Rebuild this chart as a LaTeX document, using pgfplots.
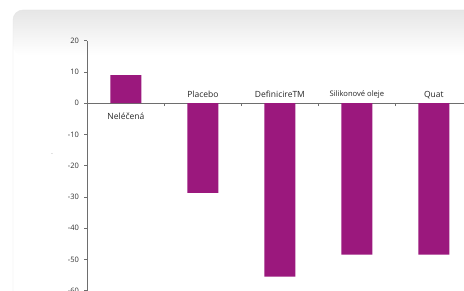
\documentclass[border=0pt]{standalone}
\usepackage{pgfplots}
\pgfplotsset{compat=1.18}
\usepackage{fontspec}
\setmainfont{Open Sans}
\definecolor{barpurple}{RGB}{155,24,125}
\definecolor{axgray}{RGB}{110,110,110}
\definecolor{panelgray}{RGB}{230,230,230}
\begin{document}
\begin{tikzpicture}[x=1pt,y=1pt]
\useasboundingbox (0,0) rectangle (464,291);
\clip (0,0) rectangle (464,291);
\fill[white] (0,0) rectangle (464,291);
\fill[white, rounded corners=10pt] (13,-20) rectangle (490,281);
\shade[rounded corners=10pt, top color=panelgray, bottom color=white] (13,236) rectangle (490,281);
\draw[black!10, rounded corners=10pt] (13,-20) -- (13,281) -- (490,281);
\node[text=black!35, font=\fontsize{6}{7}\selectfont] at (52,136) {-};
\begin{axis}[
  at={(113.5,1)}, anchor=south west,
  scale only axis, width=385pt, height=250pt,
  xmin=-0.5, xmax=4.5, ymin=-60, ymax=20,
  axis y line=left, axis x line=middle,
  axis line style={-, axgray, line width=1pt},
  ytick={-60,-50,-40,-30,-20,-10,0,10,20},
  xtick={0.5,1.5,2.5,3.5,4.5},
  xticklabels={},
  x tick style={axgray, line width=0.6pt},
  y tick style={axgray, line width=0.6pt},
  major tick length=3pt,
  tick align=outside,
  /pgf/number format/assume math mode=true,
  yticklabel style={font=\fontsize{7.5}{8}\selectfont, text=black!80, xshift=-2pt},
  clip=false,
]
\addplot[ybar, bar width=31pt, fill=barpurple, draw=none] coordinates {
  (0,9) (1,-28.7) (2,-55.5) (3,-48.5) (4,-48.5)
};
\node[font=\fontsize{8.5}{9}\selectfont, text=black!85] at (axis cs:0,-4.2) {Neléčená};
\node[font=\fontsize{8.5}{9}\selectfont, text=black!85] at (axis cs:1,2.9) {Placebo};
\node[font=\fontsize{8.5}{9}\selectfont, text=black!85] at (axis cs:2,2.9) {DefinicireTM};
\node[font=\fontsize{7.6}{8}\selectfont, text=black!85] at (axis cs:3,2.9) {Silikonové oleje};
\node[font=\fontsize{8.5}{9}\selectfont, text=black!85] at (axis cs:4,2.6) {Quat};
\end{axis}
\end{tikzpicture}
\end{document}
